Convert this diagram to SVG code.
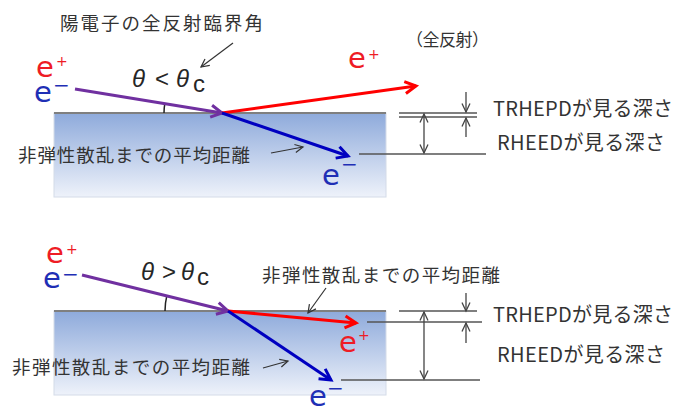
<svg xmlns="http://www.w3.org/2000/svg" width="690" height="407" viewBox="0 0 690 407">
<style>
.bg{fill:#ffffff}
.sub{fill:url(#subGrad);stroke:#d4dbe8;stroke-width:1}
.surf{stroke:#7f7f7f;stroke-width:2;fill:none}
.pur{stroke:#7030a0;stroke-width:3;fill:none;marker-end:url(#mPur)}
.red{stroke:#ff0000;stroke-width:3;fill:none;marker-end:url(#mRed)}
.blu{stroke:#0000c0;stroke-width:3;fill:none;marker-end:url(#mBlu)}
.thin{stroke:#333333;stroke-width:1.2;fill:none;marker-end:url(#mThin)}
.dim{stroke:#555555;stroke-width:1.5;fill:none}
.dbl{stroke:#444444;stroke-width:1.3;fill:none;marker-start:url(#mDim);marker-end:url(#mDim)}
.one{stroke:#444444;stroke-width:1.3;fill:none;marker-end:url(#mDim)}
.arc{stroke:#222222;stroke-width:1.5;fill:none}
.jp{font-family:"Noto Sans CJK JP","Liberation Sans",sans-serif;fill:#333333}
.lab{font-size:18.5px}
.dep{font-size:20px}
.el{font-family:"DejaVu Sans","Liberation Sans",sans-serif;font-size:29px}
.sup{font-family:"DejaVu Sans","Liberation Sans",sans-serif}
.ep{fill:#ee1c25}
.em{fill:#1f2fb5}
.th{font-family:"Liberation Sans",sans-serif;font-size:24px;fill:#262626}
.it{font-style:italic}
</style>
<defs>
<linearGradient id="subGrad" x1="0" y1="0" x2="0" y2="1">
<stop offset="0" stop-color="#8eaadb"/>
<stop offset="1" stop-color="#eef2fa"/>
</linearGradient>
<marker id="mPur" viewBox="0 0 14 14" refX="12" refY="7" markerWidth="14" markerHeight="14" markerUnits="userSpaceOnUse" orient="auto" overflow="visible"><path d="M1,1 L12,7 L1,13" fill="none" stroke="#7030a0" stroke-width="3"/></marker>
<marker id="mRed" viewBox="0 0 14 14" refX="12" refY="7" markerWidth="14" markerHeight="14" markerUnits="userSpaceOnUse" orient="auto" overflow="visible"><path d="M1,1 L12,7 L1,13" fill="none" stroke="#ff0000" stroke-width="3"/></marker>
<marker id="mBlu" viewBox="0 0 14 14" refX="12" refY="7" markerWidth="14" markerHeight="14" markerUnits="userSpaceOnUse" orient="auto" overflow="visible"><path d="M1,1 L12,7 L1,13" fill="none" stroke="#0000c0" stroke-width="3"/></marker>
<marker id="mThin" viewBox="0 0 10 10" refX="9" refY="5" markerWidth="10" markerHeight="10" markerUnits="userSpaceOnUse" orient="auto" overflow="visible"><path d="M1,1 L9,5 L1,9" fill="none" stroke="#333333" stroke-width="1.2"/></marker>
<marker id="mDim" viewBox="0 0 10 10" refX="9.5" refY="5" markerWidth="10" markerHeight="10" markerUnits="userSpaceOnUse" orient="auto-start-reverse" overflow="visible"><path d="M1,1 L9.5,5 L1,9" fill="none" stroke="#444444" stroke-width="1.3"/></marker>
</defs>
<rect class="bg" x="0" y="0" width="690" height="407"/>

<!-- Top panel -->
<g id="substrate-top">
<rect class="sub" x="54" y="113" width="332" height="84"/>
<path class="surf" d="M54,113 H386"/>
</g>
<g id="particles-top">
<text class="el ep" x="36" y="77">e</text>
<text class="sup ep" x="56" y="66" font-size="14">+</text>
<text class="el em" x="34" y="102">e</text>
<text class="sup em" x="53" y="92" font-size="20">−</text>
<text class="el ep" x="348" y="68">e</text>
<text class="sup ep" x="368" y="59" font-size="14">+</text>
<text class="el em" x="322" y="185">e</text>
<text class="sup em" x="341" y="171" font-size="20">−</text>
</g>
<g id="angle-top">
<path class="arc" d="M164,113 A58,58 0 0 1 164.8,103.6"/>
<text class="th it" x="132" y="87">θ</text>
<text class="th" x="155" y="87">&lt;</text>
<text class="th it" x="176" y="87">θ</text>
<text class="th" x="193" y="92" font-size="15">c</text>
</g>
<g id="labels-top">
<text class="jp lab" x="60" y="30" textLength="203" lengthAdjust="spacing">陽電子の全反射臨界角</text>
<text class="jp" x="406" y="46" font-size="17" textLength="83" lengthAdjust="spacing">（全反射）</text>
<text class="jp lab" x="18" y="162" textLength="232" lengthAdjust="spacing">非弾性散乱までの平均距離</text>
<text class="jp dep" x="493" y="116" textLength="180" lengthAdjust="spacing">TRHEPDが見る深さ</text>
<text class="jp dep" x="497" y="150" textLength="168" lengthAdjust="spacing">RHEEDが見る深さ</text>
</g>
<g id="depth-top">
<path class="dim" d="M399,113 H477 M399,117 H477 M359,154 H486"/>
</g>

<!-- Bottom panel -->
<g id="substrate-bottom">
<rect class="sub" x="54" y="311" width="332" height="84"/>
<path class="surf" d="M54,311 H386"/>
</g>
<g id="particles-bottom">
<text class="el ep" x="46" y="263">e</text>
<text class="sup ep" x="66" y="254" font-size="14">+</text>
<text class="el em" x="43" y="288">e</text>
<text class="sup em" x="62" y="281" font-size="20">−</text>
<text class="el ep" x="339" y="352">e</text>
<text class="sup ep" x="358" y="340" font-size="14">+</text>
<text class="el em" x="309" y="406">e</text>
<text class="sup em" x="327" y="395" font-size="20">−</text>
</g>
<g id="angle-bottom">
<path class="arc" d="M165,311 A63,63 0 0 1 166.8,295.9"/>
<text class="th it" x="141" y="280">θ</text>
<text class="th" x="162" y="280">&gt;</text>
<text class="th it" x="181" y="280">θ</text>
<text class="th" x="197" y="285" font-size="15">c</text>
</g>
<g id="labels-bottom">
<text class="jp lab" x="262" y="282" textLength="238" lengthAdjust="spacing">非弾性散乱までの平均距離</text>
<text class="jp lab" x="12" y="374" textLength="238" lengthAdjust="spacing">非弾性散乱までの平均距離</text>
<text class="jp dep" x="493" y="322" textLength="180" lengthAdjust="spacing">TRHEPDが見る深さ</text>
<text class="jp dep" x="497" y="362" textLength="168" lengthAdjust="spacing">RHEEDが見る深さ</text>
</g>
<g id="depth-bottom">
<path class="dim" d="M399,311 H477 M367,322 H482 M341,380 H480"/>
</g>

<g id="connectors">
<path class="pur" d="M75,89 L222,113"/>
<path class="red" d="M222,113 L416,86"/>
<path class="blu" d="M222,113 L348,156"/>
<path class="thin" d="M233,43 L201,67"/>
<path class="thin" d="M271,153 L303,147"/>
<path class="dbl" d="M424,114 V153"/>
<path class="one" d="M466,92 V112"/>
<path class="one" d="M466,137 V118"/>

<path class="pur" d="M82,275 L228,311"/>
<path class="red" d="M228,311 L356,323"/>
<path class="blu" d="M228,311 L331,380"/>
<path class="thin" d="M326,288 L308,313"/>
<path class="thin" d="M263,368 L288,361"/>
<path class="dbl" d="M424,312 V379"/>
<path class="one" d="M466,293 V311"/>
<path class="one" d="M466,343 V323"/>
</g>
</svg>
